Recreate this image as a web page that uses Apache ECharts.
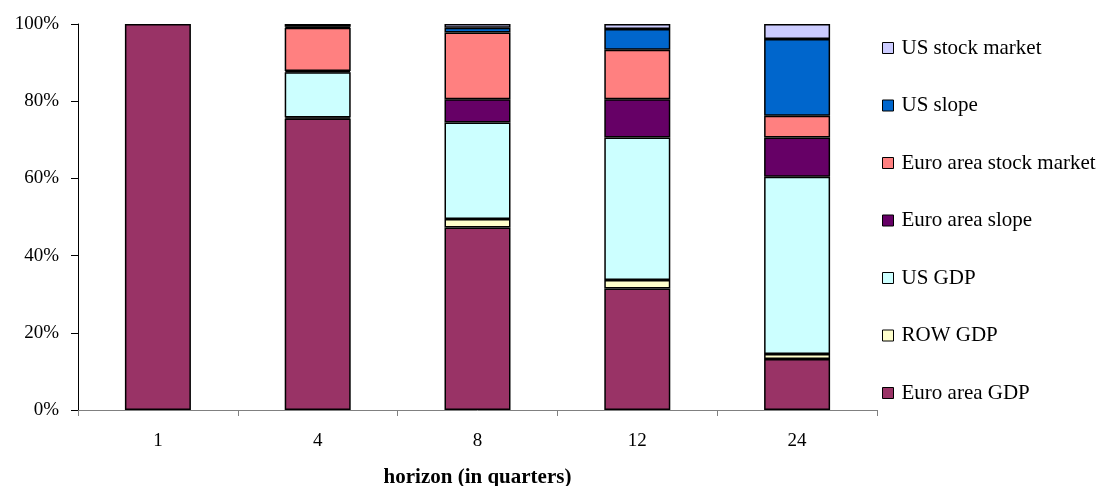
<!DOCTYPE html>
<html>
<head>
<meta charset="utf-8">
<script src="https://cdn.jsdelivr.net/npm/echarts@6/dist/echarts.min.js"></script>
<style>html,body{margin:0;padding:0;background:#fff;overflow:hidden}#c{width:1101px;height:486px}</style>
</head>
<body>
<div id="c"></div>
<script>
const categories = ['1', '4', '8', '12', '24'];
const euroGDP      = [100, 75.5, 47.3, 31.5, 13.2];
const rowGDP       = [null, 0.3, 2.2, 2.2, 1.3];
const usGDP        = [null, 11.7, 25.0, 36.9, 45.9];
const euroSlope    = [null, 0.3, 6.0, 9.9, 10.2];
const euroStock    = [null, 11.2, 17.3, 12.8, 5.6];
const usSlope      = [null, 0.3, 1.2, 5.4, 19.9];
const usStock      = [null, 0.7, 1.0, 1.3, 3.9];
const yTicks = [0, 20, 40, 60, 80, 100];

const seriesDefs = [
  ['Euro area GDP', euroGDP, '#993366'],
  ['ROW GDP', rowGDP, '#FFFFCC'],
  ['US GDP', usGDP, '#CCFFFF'],
  ['Euro area slope', euroSlope, '#660066'],
  ['Euro area stock market', euroStock, '#FF8080'],
  ['US slope', usSlope, '#0066CC'],
  ['US stock market', usStock, '#CCCCFF']
];

const font = 'Liberation Serif, Times New Roman, serif';
const chart = echarts.init(document.getElementById('c'), null, {renderer: 'canvas'});
chart.setOption({
  animation: false,
  backgroundColor: '#fff',
  grid: {left: 78, width: 799, top: 24, height: 386, containLabel: false, outerBoundsMode: 'none'},
  legend: {
    orient: 'vertical',
    left: 882,
    top: 37.5,
    padding: 0,
    itemWidth: 11,
    itemHeight: 11,
    itemGap: 36.5,
    icon: 'rect',
    data: seriesDefs.map(s => s[0]).reverse(),
    textStyle: {fontFamily: font, fontSize: 21, color: '#000', lineHeight: 21, padding: [0, 0, 0, 3]},
    itemStyle: {borderColor: '#000', borderWidth: 1}
  },
  xAxis: {
    type: 'category',
    data: categories,
    name: 'horizon (in quarters)',
    nameLocation: 'middle',
    nameGap: 57,
    nameTextStyle: {fontFamily: font, fontSize: 21, fontWeight: 'bold', color: '#000'},
    axisLine: {lineStyle: {color: '#808080', width: 1}},
    axisTick: {show: true, length: 6, lineStyle: {color: '#808080'}},
    axisLabel: {fontFamily: font, fontSize: 19, color: '#000', margin: 22}
  },
  yAxis: {
    type: 'value',
    min: 0,
    max: 100,
    interval: 20,
    splitLine: {show: false},
    axisLine: {show: true, lineStyle: {color: '#000', width: 1}},
    axisTick: {show: true, length: 7, lineStyle: {color: '#000'}},
    axisLabel: {
      fontFamily: font, fontSize: 19, color: '#000', margin: 19,
      formatter: v => yTicks.includes(v) ? v + '%' : ''
    }
  },
  series: seriesDefs.map(([name, data, color]) => ({
    name: name,
    type: 'bar',
    stack: 'total',
    data: data,
    barWidth: 66,
    itemStyle: {color: color, borderColor: '#000', borderWidth: 1.5},
    emphasis: {disabled: true}
  }))
});
</script>
</body>
</html>
